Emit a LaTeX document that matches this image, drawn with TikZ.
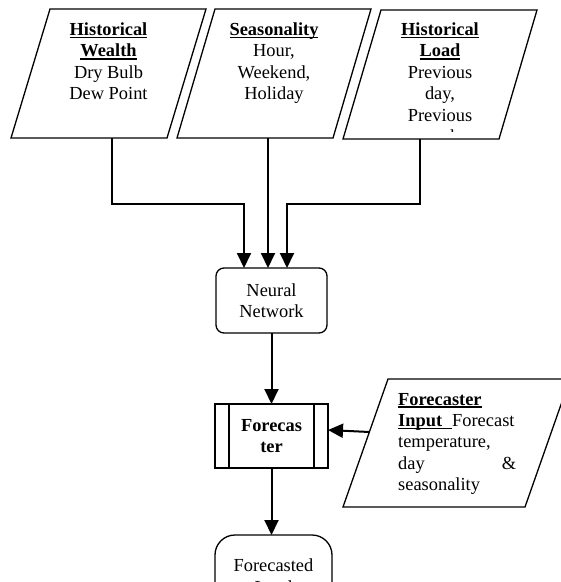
\documentclass[tikz,border=0pt]{standalone}
\usepackage{fontspec}
\setmainfont{Liberation Serif}
\usetikzlibrary{arrows.meta,calc}

% underlined heading with a thick rule
\newcommand\undl[1]{\leavevmode\setbox0=\hbox{#1}\rlap{\rule[-2.6pt]{\wd0}{1.2pt}}\box0}
% slanted outline drawn over a rectangular frame node
\newcommand\paraoutline[2]{%
  \draw[outline] ([xshift=#2]#1.north west) -- ([xshift=#2]#1.north east)
    -- ([xshift=-#2]#1.south east) -- ([xshift=-#2]#1.south west) -- cycle;}

\begin{document}
\begin{tikzpicture}[x=1pt,y=-1pt,
  font=\fontsize{18.4pt}{21.4pt}\selectfont,
  outline/.style={draw, line width=1.3pt},
  conn/.style={line width=2pt, -{Triangle[length=15pt,width=14pt]}},
  paraframe/.style={minimum width=156pt, minimum height=129pt, inner sep=0pt, outer sep=0pt},
  boxtext/.style={anchor=north, align=center, inner sep=0pt},
  procbox/.style={outline, align=center, inner sep=0pt, outer sep=0pt},
]
\path[fill=white] (0,0) rectangle (561,582);
\useasboundingbox (0,0) rectangle (561,582);
\clip (0,0) rectangle (561,582);

% input data blocks
\node[paraframe] (hw) at (108.5,73.5) {};
\node[paraframe] (ss) at (274,73.5) {};
\node[paraframe] (hl) at (440,74.5) {};
\node[paraframe, minimum width=182pt, minimum height=128pt] (fi) at (456.5,443) {};
\paraoutline{hw}{19.5pt}
\paraoutline{ss}{19pt}
\paraoutline{hl}{19pt}
\paraoutline{fi}{22.5pt}

\node[boxtext] (hwt) at (108.5,22.6)
  {\undl{\textbf{Historical}}\\\undl{\textbf{Wealth}}\\Dry Bulb\\Dew Point};
\node[boxtext] (sst) at (274,22.6)
  {\undl{\textbf{Seasonality}}\\Hour,\\Weekend,\\Holiday};
\begin{scope}
  \clip (0,0) rectangle (561,131);
  \node[boxtext] (hlt) at (440,22.6)
    {\undl{\textbf{Historical}}\\\undl{\textbf{Load}}\\Previous\\day,\\Previous\\week};
\end{scope}
\node[anchor=north west, text width=120pt, align=left, inner sep=0pt] (fit) at (398,392.8)
  {\undl{\textbf{Forecaster}}\\
   \undl{\textbf{Input}\hspace{10pt}}Forecast\\
   temperature,\\
   \makebox[118pt][s]{day\hfill\&}\\
   seasonality};

% processing blocks
\node[procbox, rounded corners=8pt, minimum width=111pt, minimum height=65pt]
  (nn) at (271.5,300.5) {Neural\\Network};
\node[procbox, minimum width=113pt, minimum height=64pt]
  (fc) at (271.5,436) {\textbf{Forecas}\\\textbf{ter}};
\draw[outline] ([xshift=14pt]fc.north west) -- ([xshift=14pt]fc.south west);
\draw[outline] ([xshift=-14pt]fc.north east) -- ([xshift=-14pt]fc.south east);
\node[procbox, rounded corners=20pt, minimum width=117pt, minimum height=82pt]
  (fl) at (273.5,576) {Forecasted\\Load};

% connectors
\draw[conn] ([xshift=3.5pt]hw.south) -- ++(0,66) -| ([xshift=-27.5pt]nn.north);
\draw[conn] ([xshift=-6pt]ss.south) -- ([xshift=-3.5pt]nn.north);
\draw[conn] ([xshift=-20pt]hl.south) -- ++(0,65) -| ([xshift=15.5pt]nn.north);
\draw[conn] (nn.south) -- (fc.north);
\draw[conn] (fc.south) -- (fc.south |- fl.north);
\coordinate (fiin) at ([shift={(3.9pt,11pt)}]fi.west);
\draw[conn] (fiin) -- ([yshift=6pt]fc.east);
\end{tikzpicture}
\end{document}
